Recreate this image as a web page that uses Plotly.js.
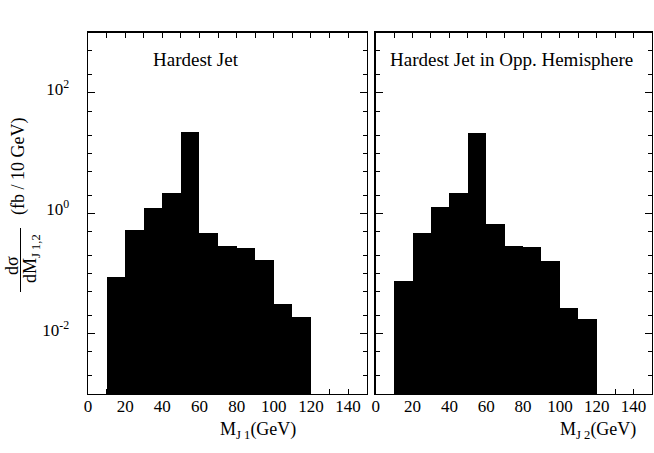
<!DOCTYPE html>
<html>
<head>
<meta charset="utf-8">
<script src="https://cdn.plot.ly/plotly-3.0.1.min.js"></script>
<style>html,body{margin:0;padding:0;background:#fff;}#chart{width:654px;height:453px;}</style>
</head>
<body>
<div id="chart"></div>
<script>
// ---- data ----
var binLow = [10, 20, 30, 40, 50, 60, 70, 80, 90, 100, 110];
var hardestJet = [0.087, 0.53, 1.21, 2.2, 22.4, 0.48, 0.29, 0.27, 0.166, 0.031, 0.019];
var oppHemisphere = [0.074, 0.48, 1.27, 2.15, 21.8, 0.66, 0.29, 0.275, 0.16, 0.027, 0.0175];
var panelTitles = ["Hardest Jet", "Hardest Jet in Opp. Hemisphere"];
var xTickVals = [0, 20, 40, 60, 80, 100, 120, 140];
var xTickText = ["0", "20", "40", "60", "80", "100", "120", "140"];
var yTickVals = [1e-2, 1e0, 1e2];
var yTickText = ["10<sup>-2</sup>", "10<sup>0</sup>", "10<sup>2</sup>"];
var yOddDecades = [1e-3, 1e-1, 1e1, 1e3];

var W = 654, H = 453;
function px(x) { return x / W; }
function py(y) { return 1 - y / H; }

var FONT = "Liberation Serif, Times New Roman, serif";

var barStyle = {type: "bar", offset: 0, width: 10, marker: {color: "#000", line: {width: 0}}, showlegend: false, hoverinfo: "x+y"};
var traces = [
  Object.assign({}, barStyle, {x: binLow, y: hardestJet, xaxis: "x", yaxis: "y", name: panelTitles[0]}),
  Object.assign({}, barStyle, {x: binLow, y: oppHemisphere, xaxis: "x2", yaxis: "y2", name: panelTitles[1]})
];

function xAxis(domain) {
  return {
    domain: domain, range: [0, 150], showline: true, linecolor: "#000", linewidth: 1.4, mirror: "ticks",
    ticks: "inside", ticklen: 5, tickwidth: 1, tickcolor: "#000",
    tickmode: "array", tickvals: xTickVals, ticktext: xTickText,
    minor: {dtick: 10, ticks: "inside", ticklen: 5, tickwidth: 1, tickcolor: "#000"},
    showgrid: false, zeroline: false, fixedrange: true,
    tickfont: {family: FONT, size: 17, color: "#000"}, ticklabelstandoff: -4
  };
}
function yAxis(anchor, labels) {
  return {
    domain: [py(394), py(32.7)], type: "log", range: [-3, 3], anchor: anchor,
    showline: true, linecolor: "#000", linewidth: 1.4, mirror: "ticks",
    ticks: "inside", ticklen: 7, tickwidth: 1, tickcolor: "#000",
    tickmode: "array", tickvals: yTickVals, ticktext: yTickText, showticklabels: labels,
    minor: {dtick: "D2", ticks: "inside", ticklen: 4, tickwidth: 1, tickcolor: "#000"},
    showgrid: false, zeroline: false, fixedrange: true,
    tickfont: {family: FONT, size: 17, color: "#000"}, ticklabelstandoff: 14, ticklabelshift: -4
  };
}
function yOddAxis(anchor, over) {
  return {
    domain: [py(394), py(32.7)], type: "log", range: [-3, 3], anchor: anchor, overlaying: over,
    showline: false, mirror: "ticks", ticks: "inside", ticklen: 7, tickwidth: 1, tickcolor: "#000",
    tickmode: "array", tickvals: yOddDecades, showticklabels: false,
    showgrid: false, zeroline: false, fixedrange: true
  };
}

var layout = {
  width: W, height: H, margin: {l: 0, r: 0, t: 0, b: 0, pad: 0},
  paper_bgcolor: "#fff", plot_bgcolor: "#fff", bargap: 0, showlegend: false,
  font: {family: FONT, color: "#000"},
  xaxis: xAxis([px(88), px(366.7)]),
  yaxis: yAxis("x", true),
  xaxis2: Object.assign(xAxis([px(375.7), px(652)]), {anchor: "y2"}),
  yaxis2: yAxis("x2", false),
  yaxis3: yOddAxis("x", "y"),
  yaxis4: yOddAxis("x2", "y2"),
  annotations: [
    {text: panelTitles[0], xref: "paper", yref: "paper", x: px(196.5), y: py(59), xanchor: "center", yanchor: "middle", showarrow: false, font: {family: FONT, size: 19, color: "#000"}},
    {text: panelTitles[1], xref: "paper", yref: "paper", x: px(511), y: py(59), xanchor: "center", yanchor: "middle", showarrow: false, font: {family: FONT, size: 19, color: "#000"}},
    {text: "M<sub>J 1</sub>(GeV)", xref: "paper", yref: "paper", x: px(258), y: py(430), xanchor: "center", yanchor: "middle", showarrow: false, font: {family: FONT, size: 18, color: "#000"}},
    {text: "M<sub>J 2</sub>(GeV)", xref: "paper", yref: "paper", x: px(598), y: py(430), xanchor: "center", yanchor: "middle", showarrow: false, font: {family: FONT, size: 18, color: "#000"}},
    {text: "dσ", xref: "paper", yref: "paper", x: px(12), y: py(266), xanchor: "center", yanchor: "middle", textangle: -90, showarrow: false, font: {family: FONT, size: 18, color: "#000"}},
    {text: "dM<sub>J 1,2</sub>", xref: "paper", yref: "paper", x: px(31), y: py(259), xanchor: "center", yanchor: "middle", textangle: -90, showarrow: false, font: {family: FONT, size: 18, color: "#000"}},
    {text: "(fb / 10 GeV)", xref: "paper", yref: "paper", x: px(18), y: py(167), xanchor: "center", yanchor: "middle", textangle: -90, showarrow: false, font: {family: FONT, size: 18, color: "#000"}}
  ],
  shapes: [
    {type: "line", xref: "paper", yref: "paper", x0: px(20.5), x1: px(20.5), y0: py(228), y1: py(292), line: {color: "#000", width: 1}}
  ]
};

Plotly.newPlot("chart", traces, layout, {displayModeBar: false, staticPlot: true});
</script>
</body>
</html>
